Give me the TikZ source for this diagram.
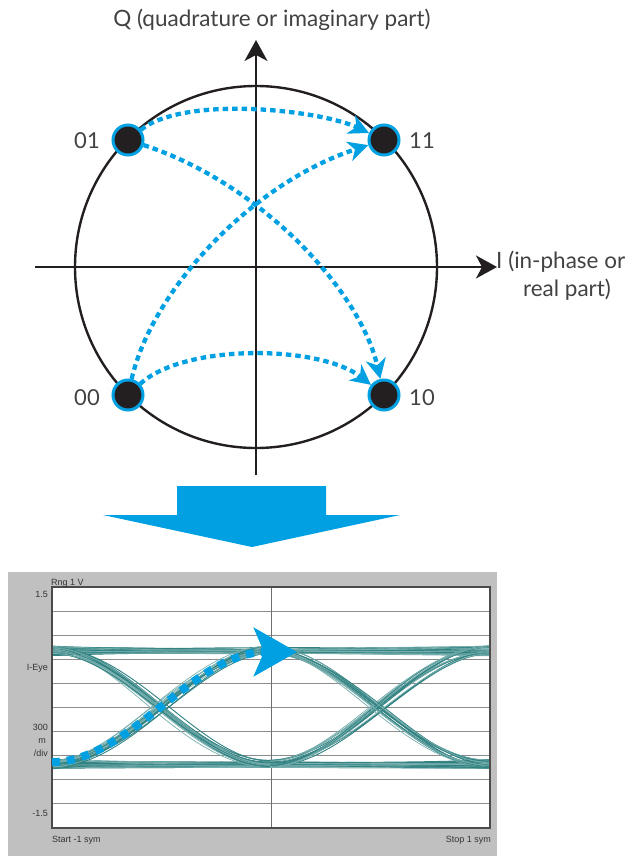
\documentclass[tikz,border=0pt]{standalone}
\usepackage{fontspec}
\setmainfont{Lato}
\newfontfamily\scopefont{Liberation Sans}
\usetikzlibrary{arrows.meta}
\definecolor{kblue}{RGB}{0,160,227}
\definecolor{dotblack}{RGB}{35,31,32}
\definecolor{tealA}{RGB}{50,130,130}
\definecolor{tealB}{RGB}{120,175,175}
\definecolor{panelgrey}{RGB}{192,192,192}
\definecolor{gridgrey}{RGB}{140,140,140}
\definecolor{bordergrey}{RGB}{75,75,75}
\begin{document}
\begin{tikzpicture}[x=1pt,y=-1pt,
  axisline/.style={line width=2pt, draw=dotblack, -{Stealth[length=21pt,width=23pt,inset=6pt]}},
  symdot/.style={circle, fill=dotblack, draw=kblue, line width=3pt, minimum size=30pt, inner sep=0pt},
  symlabel/.style={font=\fontsize{22}{26}\selectfont, text=dotblack!85, anchor=base},
  biglabel/.style={font=\fontsize{22.5}{27}\selectfont, text=dotblack!85},
  trans/.style={kblue, line width=4.3pt, dash pattern=on 5.5pt off 4pt, -{Stealth[length=20pt,width=20pt,inset=6pt]}},
  eyearrow/.style={kblue, line width=8pt, dash pattern=on 8pt off 7pt, -{Stealth[length=43pt,width=48pt,inset=10pt]}},
  tracea/.style={tealA, line width=0.9pt},
  traceb/.style={tealB, line width=0.7pt},
  small/.style={font=\scopefont\fontsize{9}{10}\selectfont, text=black!80, inner sep=0pt}
]
\useasboundingbox (0,0) rectangle (637,856);

% ---------- constellation ----------
\draw[dotblack, line width=2.4pt] (256,267) circle (181);
\coordinate (hL) at (35,267);
\coordinate (hR) at (497,267);
\coordinate (vB) at (256,475);
\coordinate (vT) at (256,40);
\draw[axisline] (hL) -- (hR);
\draw[axisline] (vB) -- (vT);

\node[biglabel, anchor=base] (qlab) at (272,27) {Q (quadrature or imaginary part)};
\node[biglabel, anchor=base west, inner sep=0pt] (ilab1) at (496,268) {I (in-phase or};
\node[biglabel, anchor=base, inner sep=0pt] (ilab2) at (567,296) {real part)};

\node[symdot] (d01) at (128,140) {};
\node[symdot] (d11) at (384,140) {};
\node[symdot] (d00) at (128,395) {};
\node[symdot] (d10) at (384,395) {};

\node[symlabel] (l01) at (87,148) {01};
\node[symlabel] (l11) at (422,148) {11};
\node[symlabel] (l00) at (87,405) {00};
\node[symlabel] (l10) at (422,405) {10};

\draw[trans] (d01) .. controls (185,95) and (320,110) .. (d11);
\draw[trans] (d00) .. controls (185,343) and (320,345) .. (d10);
\draw[trans] (d01) .. controls (260,183) and (360,290) .. (d10);
\draw[trans] (d00) .. controls (152,290) and (252,183) .. (d11);

% ---------- big arrow ----------
\fill[kblue] (177,486) -- (326,486) -- (326,515) -- (400,515) -- (252,547)
  -- (103,515) -- (177,515) -- cycle;

% ---------- eye diagram ----------
\fill[panelgrey] (8,572) rectangle (497,856);
\fill[white] (52,587) rectangle (490,828);
\foreach \k in {1,...,9} {
  \draw[gridgrey, line width=1pt] (52,587+\k*24.1) -- (490,587+\k*24.1);
}
\draw[bordergrey!80, line width=1pt] (271,587) -- (271,828);

\begin{scope}
\clip (52,587) rectangle (490,828);
\pgfmathsetseed{11}
% flat high and low bundles
\foreach \i in {1,...,18} {
  \pgfmathsetmacro\ya{651+5*rand}
  \pgfmathsetmacro\yb{651+5*rand}
  \pgfmathsetmacro\yc{651+5*rand}
  \pgfmathsetmacro\yd{651+5*rand}
  \pgfmathsetmacro\za{764+5*rand}
  \pgfmathsetmacro\zb{764+5*rand}
  \pgfmathsetmacro\zc{764+5*rand}
  \pgfmathsetmacro\zd{764+5*rand}
  \draw[tracea] (52,\ya) .. controls (140,\yb) and (380,\yc) .. (490,\yd);
  \draw[tracea] (52,\za) .. controls (140,\zb) and (380,\zc) .. (490,\zd);
  \draw[traceb] (52,\yb) .. controls (200,\ya) and (300,\yd) .. (490,\yc);
  \draw[traceb] (52,\zb) .. controls (200,\za) and (300,\zd) .. (490,\zc);
}
% transitions
\foreach \xa/\xb in {52/270, 270/490} {
  \foreach \i in {1,...,10} {
    \pgfmathsetmacro\ha{650+4*rand}
    \pgfmathsetmacro\la{764+4*rand}
    \pgfmathsetmacro\hb{650+4*rand}
    \pgfmathsetmacro\lb{764+4*rand}
    \pgfmathsetmacro\dx{8*rand}
    \pgfmathsetmacro\dy{8*rand}
    \draw[tracea] (\xa,\ha) .. controls ({\xa+75+\dx},\ha) and ({\xb-75+\dx},\la) .. (\xb,\la);
    \draw[tracea] (\xa,\lb) .. controls ({\xa+75+\dy},\lb) and ({\xb-75+\dy},\hb) .. (\xb,\hb);
    \draw[traceb] (\xa,\ha) .. controls ({\xa+70+\dy},\ha) and ({\xb-80+\dy},\lb) .. (\xb,\lb);
    \draw[traceb] (\xa,\la) .. controls ({\xa+70+\dx},\la) and ({\xb-80+\dx},\hb) .. (\xb,\hb);
  }
}
\end{scope}
\draw[bordergrey, line width=2.6pt] (52,587) rectangle (490,828);

\coordinate (eyeS) at (52,762);
\coordinate (eyeE) at (297,652);
\draw[eyearrow] (eyeS) .. controls (130,762) and (192,652) .. (eyeE);

\node[small, anchor=base west] (rng) at (51,585) {Rng 1  V};
\node[small, anchor=base east] (t15) at (48,597) {1.5};
\node[small, anchor=base east] (teye) at (48,670) {I-Eye};
\node[small, anchor=base east] (t300) at (48,730) {300};
\node[small, anchor=base east] (tm) at (46,743) {m};
\node[small, anchor=base east] (tdiv) at (48,756) {/div};
\node[small, anchor=base east] (tm15) at (48,816) {-1.5};
\node[small, anchor=base west] (tstart) at (52,842) {Start -1  sym};
\node[small, anchor=base east] (tstop) at (491,842) {Stop 1  sym};
\end{tikzpicture}
\end{document}
